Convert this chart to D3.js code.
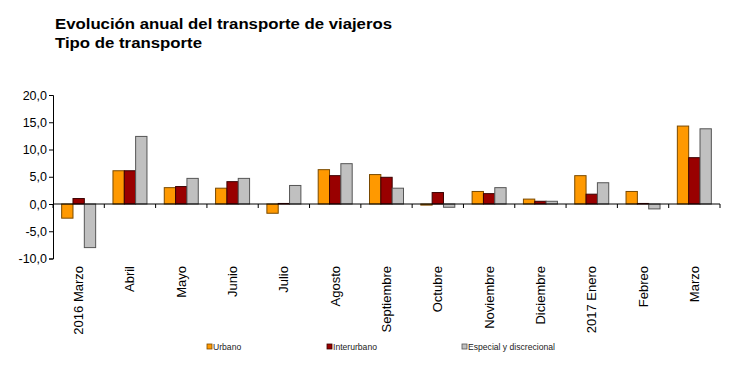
<!DOCTYPE html>
<html><head><meta charset="utf-8">
<script src="https://cdn.jsdelivr.net/npm/d3@7"></script>
<style>body{margin:0;background:#fff;}svg{display:block;font-family:"Liberation Sans",Arial,sans-serif;}</style>
</head><body><svg id="c" width="750" height="385"></svg>
<script>
const categories = ["2016 Marzo","Abril","Mayo","Junio","Julio","Agosto","Septiembre","Octubre","Noviembre","Diciembre","2017 Enero","Febreo","Marzo"];
const seriesNames = ["Urbano","Interurbano","Especial y discrecional"];
const urbano      = [-2.6, 6.1, 3.0, 2.9, -1.7, 6.3, 5.4, -0.2, 2.3, 0.9, 5.2, 2.3, 14.3];
const interurbano = [1.0, 6.1, 3.2, 4.1, 0.1, 5.2, 4.9, 2.1, 1.9, 0.5, 1.8, 0.1, 8.5];
const especial    = [-8.0, 12.4, 4.7, 4.7, 3.4, 7.4, 2.9, -0.6, 3.0, 0.5, 3.9, -0.9, 13.8];
const yTicks = [-10, -5, 0, 5, 10, 15, 20];

const colors = ["#FF9900", "#990000", "#C0C0C0"];
const strokes = ["#7a4a00", "#3a0000", "#555555"];
const seriesVals = [urbano, interurbano, especial];

const svg = d3.select("#c");
const L = 53, R = 720, T = 95, B = 258.5;
const x = d3.scaleBand().domain(categories).range([L, R]).paddingInner(0).paddingOuter(0);
const y = d3.scaleLinear().domain([-10, 20]).range([B, T]);
const inner = d3.scaleBand().domain([0,1,2]).range([0, 34]).padding(0);

svg.append("text").attr("x", 55).attr("y", 28.5).attr("font-size", 14).attr("font-weight", "bold")
  .attr("textLength", 337).attr("lengthAdjust", "spacingAndGlyphs").text("Evolución anual del transporte de viajeros");
svg.append("text").attr("x", 55).attr("y", 47.5).attr("font-size", 14).attr("font-weight", "bold")
  .attr("textLength", 147).attr("lengthAdjust", "spacingAndGlyphs").text("Tipo de transporte");

// bars
seriesVals.forEach((vals, s) => {
  svg.append("g").selectAll("rect").data(vals).join("rect")
    .attr("x", (d, i) => x(categories[i]) + (x.bandwidth() - 34) / 2 + inner(s))
    .attr("width", inner.bandwidth())
    .attr("y", d => y(Math.max(0, d)))
    .attr("height", d => Math.abs(y(d) - y(0)))
    .attr("fill", colors[s]).attr("stroke", strokes[s]).attr("stroke-width", 1);
});

// y axis
const ya = svg.append("g").attr("transform", `translate(${L},0)`)
  .call(d3.axisLeft(y).tickValues(yTicks).tickSize(4).tickFormat(d => d3.format(".1f")(d).replace(".", ",").replace("−","-")));
ya.select(".domain").attr("stroke", "#000");
ya.selectAll("line").attr("stroke", "#000");
ya.selectAll("text").attr("font-size", 12.5).attr("fill", "#000").attr("font-family", "Liberation Sans, Arial, sans-serif").attr("x", -6);

// x axis at zero
const xa = svg.append("g").attr("transform", `translate(0,${y(0)})`);
xa.append("line").attr("x1", L).attr("x2", R).attr("stroke", "#000");
xa.selectAll("line.t").data(categories.concat(["_end"])).join("line").attr("class", "t")
  .attr("x1", (d, i) => L + i * x.step()).attr("x2", (d, i) => L + i * x.step())
  .attr("y1", 0).attr("y2", 4).attr("stroke", "#000");

// x labels
svg.append("g").selectAll("text").data(categories).join("text")
  .attr("transform", d => `translate(${x(d) + x.bandwidth() / 2 + 4.5},266) rotate(-90)`)
  .attr("text-anchor", "end").attr("font-size", 13).attr("fill", "#000").text(d => d);

// legend
const legX = [207, 327, 462];
const lg = svg.append("g");
seriesNames.forEach((n, i) => {
  lg.append("rect").attr("x", legX[i]).attr("y", 344).attr("width", 5).attr("height", 5)
    .attr("fill", colors[i]).attr("stroke", strokes[i]).attr("stroke-width", 0.8);
  lg.append("text").attr("x", legX[i] + 6).attr("y", 349.5).attr("font-size", 8.6).attr("fill", "#222")
    .text(n);
});
</script></body></html>
